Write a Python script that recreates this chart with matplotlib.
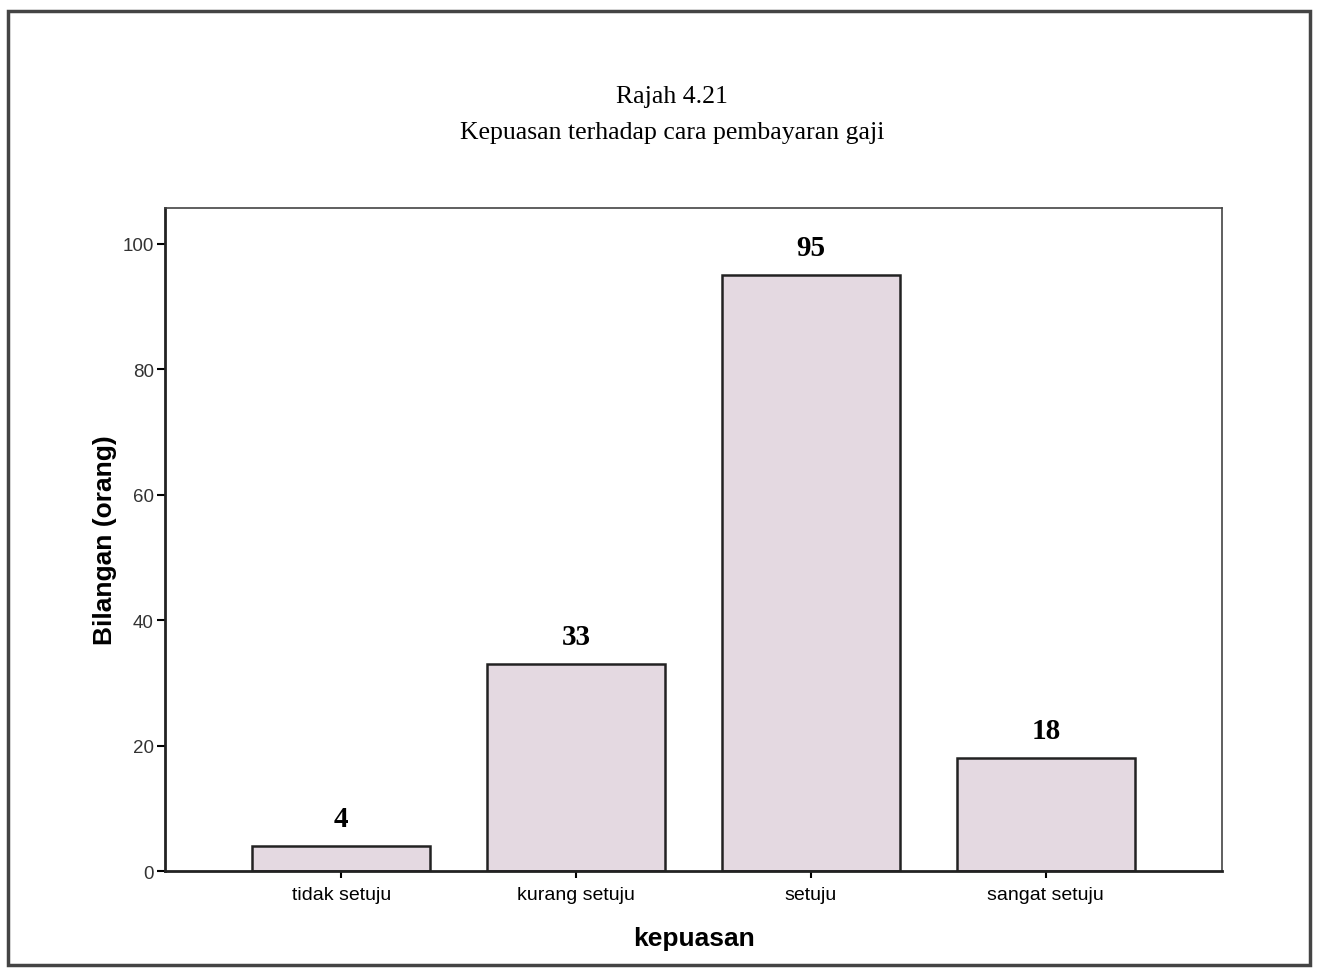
import matplotlib
matplotlib.use('Agg')
import matplotlib.pyplot as plt
import matplotlib.patches as patches

# data
categories = ['tidak setuju', 'kurang setuju', 'setuju', 'sangat setuju']
counts = [4, 33, 95, 18]
yticks = [0, 20, 40, 60, 80, 100]

fig = plt.figure(figsize=(13.29, 9.70), dpi=100)
ax = fig.add_axes([0.1242, 0.101, 0.7953, 0.6835])

# outer frame around whole figure
frame = patches.Rectangle((8 / 1329, 4 / 970), 1302 / 1329, 954 / 970,
                          transform=fig.transFigure, fill=False,
                          edgecolor='#444444', linewidth=2.5)
fig.patches.append(frame)

x = range(len(categories))
ax.bar(x, counts, width=0.76, color='#e4d9e1', edgecolor='#222222', linewidth=1.8)

for xi, v in zip(x, counts):
    ax.annotate(str(v), (xi, v), xytext=(0, 20), textcoords='offset points',
                ha='center', va='center', fontsize=21, fontweight='bold',
                family='Liberation Serif')

ax.set_xlim(-0.75, 3.75)
ax.set_ylim(0, 105.7)
ax.set_yticks(yticks)
ax.set_yticklabels([str(t) for t in yticks], fontsize=13.5, color='#333333',
                   family='Liberation Sans')
ax.set_xticks(list(x))
ax.set_xticklabels(categories, fontsize=14, family='Liberation Sans')
ax.tick_params(axis='y', direction='out', length=6, width=1.5, pad=2)
ax.tick_params(axis='x', direction='out', length=5, width=1.5, pad=6)

for side in ['left', 'bottom']:
    ax.spines[side].set_linewidth(2)
    ax.spines[side].set_color('#222222')
for side in ['top', 'right']:
    ax.spines[side].set_linewidth(1.2)
    ax.spines[side].set_color('#444444')

ax.set_ylabel('Bilangan (orang)', fontsize=19, fontweight='bold',
              family='Liberation Sans', labelpad=4)
ax.set_xlabel('kepuasan', fontsize=19, fontweight='bold',
              family='Liberation Sans', labelpad=16)

fig.text(0.5056, 0.9, 'Rajah 4.21', ha='center', va='center',
         fontsize=18.5, family='Liberation Serif')
fig.text(0.5056, 0.863, 'Kepuasan terhadap cara pembayaran gaji', ha='center',
         va='center', fontsize=18.5, family='Liberation Serif')

fig.savefig('out.png', dpi=100)
